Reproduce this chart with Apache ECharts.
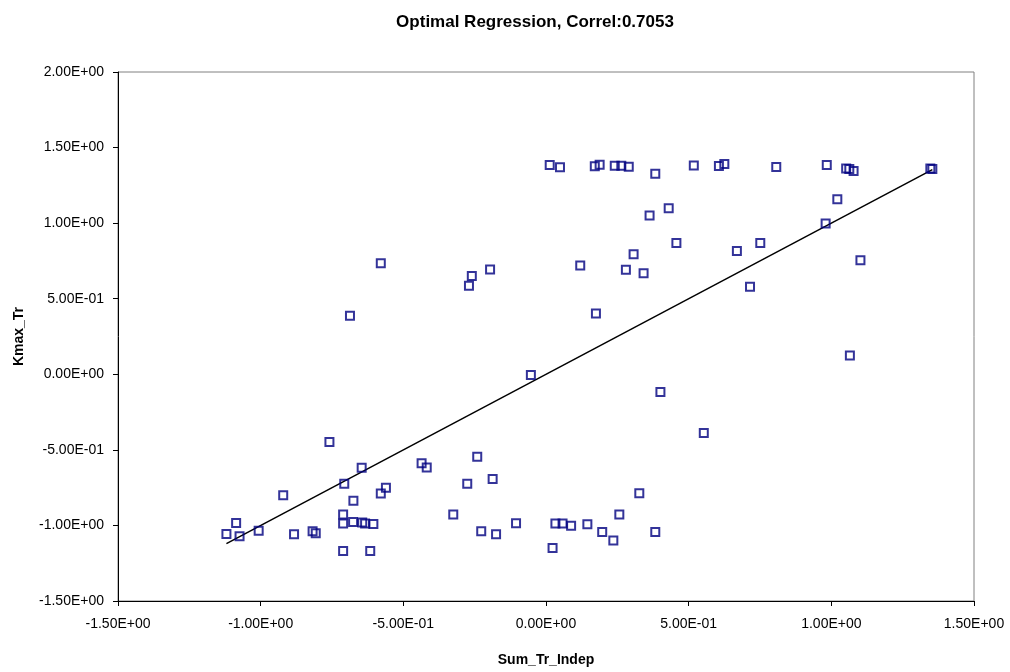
<!DOCTYPE html>
<html>
<head>
<meta charset="utf-8">
<script src="https://cdn.jsdelivr.net/npm/echarts@6/dist/echarts.min.js"></script>
<style>
  html, body { margin: 0; padding: 0; background: #fff; }
  #chart { width: 1010px; height: 672px; }
</style>
</head>
<body>
<div id="chart"></div>
<script>
// Sum_Tr_Indep (x) against Kmax_Tr (y)
const sumTrIndep = [
  0.013, 0.049, 0.171, 0.188, 0.241, 0.264, 0.290, 0.383, 0.518, 0.606, 0.625, 0.807,
  0.984, 1.052, 1.063, 1.078, 1.347, 1.354,
  0.430, 0.363, 0.457, 0.307, 0.120, 0.280, 0.342, 0.669, 0.751, 0.715, 0.175,
  1.021, 0.980, 1.102, 1.065,
  -0.579, -0.196, -0.260, -0.270, -0.687,
  -0.759, -0.241, -0.646, -0.436, -0.418, -0.187, -0.276, -0.707, -0.561, -0.579,
  -0.921, -0.675, -0.325, -0.711, -1.086, -0.711, -0.676, -0.644, -0.634, -0.605,
  -1.007, -1.120, -1.074, -0.883, -0.818, -0.807, -0.227, -0.175, -0.711, -0.616,
  -0.053, 0.401, 0.553, 0.327, 0.257, -0.105, 0.033, 0.058, 0.088, 0.145,
  0.197, 0.236, 0.383, 0.023
];
const kmaxTr = [
  1.384, 1.369, 1.376, 1.386, 1.380, 1.380, 1.373, 1.327, 1.382, 1.378, 1.391, 1.371,
  1.384, 1.362, 1.358, 1.345, 1.362, 1.358,
  1.099, 1.050, 0.869, 0.794, 0.719, 0.692, 0.668, 0.816, 0.869, 0.579, 0.403,
  1.158, 0.998, 0.754, 0.124,
  0.734, 0.693, 0.651, 0.585, 0.388,
  -0.448, -0.545, -0.618, -0.589, -0.616, -0.692, -0.725, -0.725, -0.751, -0.789,
  -0.800, -0.837, -0.927, -0.927, -0.984, -0.988, -0.978, -0.980, -0.988, -0.991,
  -1.035, -1.057, -1.072, -1.059, -1.039, -1.052, -1.039, -1.059, -1.169, -1.169,
  -0.005, -0.117, -0.389, -0.787, -0.927, -0.986, -0.988, -0.988, -1.002, -0.993,
  -1.044, -1.100, -1.044, -1.149
];

// Regression line coefficients (y = slope * x + intercept)
const fitSlope = 1.0;
const fitIntercept = 0.0;

// Axis ticks
const axisMin = -1.5;
const xAxisMax = 1.5;
const yAxisMax = 2.0;
const tickStep = 0.5;

const points = sumTrIndep.map((x, i) => [x, kmaxTr[i]]);
const xLo = Math.min(...sumTrIndep);
const xHi = Math.max(...sumTrIndep);
const fitLine = [[xLo, fitSlope * xLo + fitIntercept], [xHi, fitSlope * xHi + fitIntercept]];

// Scientific format like 1.50E+00 / -5.00E-01
function sci(v) {
  if (Math.abs(v) < 1e-12) return '0.00E+00';
  const s = v.toExponential(2);
  const [m, e] = s.split('e');
  const n = parseInt(e, 10);
  const ee = (n < 0 ? '-' : '+') + String(Math.abs(n)).padStart(2, '0');
  return m + 'E' + ee;
}

const FONT = '"Liberation Sans", Arial, sans-serif';
const chart = echarts.init(document.getElementById('chart'), null, { renderer: 'canvas' });

chart.setOption({
  animation: false,
  backgroundColor: '#ffffff',
  title: {
    text: 'Optimal Regression, Correl:0.7053',
    left: 530,
    top: 9,
    textAlign: 'center',
    textStyle: { fontFamily: FONT, fontSize: 17, fontWeight: 'bold', color: '#000' }
  },
  grid: {
    left: 118, right: 36, top: 72, bottom: 68,
    show: true, borderColor: '#808080', borderWidth: 1, backgroundColor: '#ffffff'
  },
  xAxis: {
    type: 'value',
    min: axisMin, max: xAxisMax, interval: tickStep,
    name: 'Sum_Tr_Indep',
    nameLocation: 'middle',
    nameGap: 52,
    nameTextStyle: { fontFamily: FONT, fontSize: 14, fontWeight: 'bold', color: '#000' },
    axisLine: { show: true, onZero: false, lineStyle: { color: '#000', width: 1 } },
    axisTick: { show: true, inside: false, length: 5, lineStyle: { color: '#000' } },
    axisLabel: { formatter: sci, margin: 16, fontFamily: FONT, fontSize: 14, color: '#000' },
    splitLine: { show: false }
  },
  yAxis: {
    type: 'value',
    min: axisMin, max: yAxisMax, interval: tickStep,
    name: 'Kmax_Tr',
    nameLocation: 'middle',
    nameGap: 92,
    nameRotate: 90,
    nameTextStyle: { fontFamily: FONT, fontSize: 14, fontWeight: 'bold', color: '#000' },
    axisLine: { show: true, onZero: false, lineStyle: { color: '#000', width: 1 } },
    axisTick: { show: true, inside: false, length: 5, lineStyle: { color: '#000' } },
    axisLabel: { formatter: sci, margin: 14, fontFamily: FONT, fontSize: 14, color: '#000' },
    splitLine: { show: false }
  },
  series: [
    {
      name: 'Fit',
      type: 'line',
      data: fitLine,
      symbol: 'none',
      lineStyle: { color: '#000', width: 1.5 },
      z: 2
    },
    {
      name: 'Kmax_Tr',
      type: 'scatter',
      data: points,
      symbol: 'rect',
      symbolSize: 8,
      itemStyle: { color: 'rgba(255,255,255,0)', borderColor: '#000080', borderWidth: 2 },
      z: 3
    }
  ]
});
</script>
</body>
</html>
